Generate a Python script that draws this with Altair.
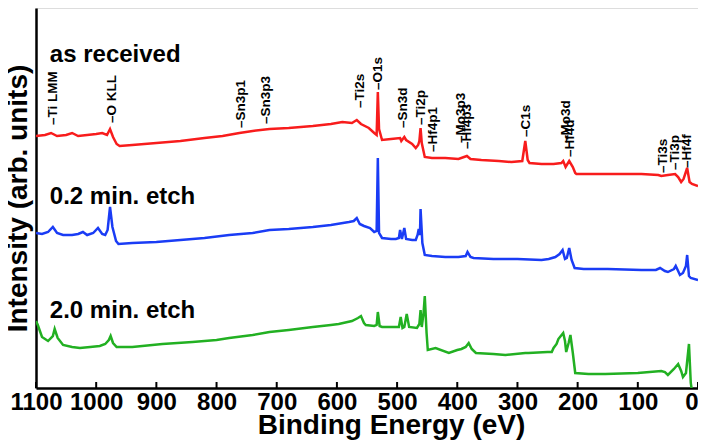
import altair as alt
import pandas as pd

# ---- data (binding energy in eV, intensity in arb. units) ----
red_be = [1100, 1085, 1075, 1065, 1050, 1040, 1030, 1015, 1000, 990, 982, 977, 972, 966, 961, 940, 900, 860,
          820, 790, 762, 740, 712, 680, 640, 610, 591, 575, 567, 560, 547, 538, 534, 532, 530, 525, 510, 495,
          493, 488, 485, 475, 469, 465, 463, 461, 459, 454, 442, 420, 398, 384, 378, 360, 331, 310, 292, 287,
          283, 280, 260, 240, 227, 224, 220, 214, 208, 204, 202, 150, 94, 66, 61, 50, 38, 33, 28, 24, 18, 14, 10, 0]
red_int = [257, 258, 260, 257, 258, 260, 257, 258, 259, 260, 258, 264, 256, 249, 247, 248, 250, 252,
           255, 257, 260, 262, 264, 265, 267, 269, 271, 270, 273, 269, 265, 260, 258, 301, 264, 253, 254, 255,
           252, 256, 253, 249, 245, 248, 252, 265, 250, 236, 235, 235, 234, 237, 234, 233, 232, 231, 232, 252,
           233, 230, 229, 229, 230, 232, 226, 232, 226, 220, 219, 219, 219, 218, 217, 218, 219, 216, 211, 214,
           225, 211, 209, 207]

blue_be = [1100, 1090, 1080, 1072, 1065, 1055, 1040, 1030, 1022, 1015, 1005, 997, 990, 985, 981, 977, 973, 967,
           963, 940, 900, 860, 820, 779, 740, 712, 680, 640, 610, 580, 572, 567, 562, 555, 545, 538, 534, 532,
           530, 525, 510, 502, 497, 495, 492, 488, 485, 475, 469, 466, 464, 462, 461, 458, 454, 442, 420, 398,
           386, 383, 378, 373, 340, 300, 260, 248, 237, 230, 225, 221, 218, 214, 210, 205, 190, 150, 94, 70,
           63, 55, 50, 40, 37, 33, 30, 25, 20, 18, 15, 12, 0]
blue_int = [160, 159, 161, 166, 160, 158, 158, 159, 161, 158, 160, 165, 159, 158, 163, 186, 166, 152,
            149, 150, 151, 153, 155, 158, 160, 163, 164, 166, 168, 171, 172, 175, 169, 167, 165, 161, 162, 235,
            160, 155, 154, 154, 155, 163, 154, 165, 154, 153, 153, 158, 164, 158, 184, 150, 138, 137, 136, 136,
            137, 141, 136, 135, 134, 134, 133, 134, 136, 139, 143, 134, 135, 145, 133, 125, 124, 124, 123, 123,
            125, 122, 121, 124, 127, 122, 118, 120, 127, 138, 117, 115, 113]

green_be = [1100, 1097, 1090, 1080, 1072, 1069, 1064, 1055, 1040, 1027, 1010, 994, 985, 979, 976, 972, 966,
            940, 890, 840, 800, 779, 740, 712, 680, 640, 610, 597, 575, 565, 560, 555, 552, 538, 534, 532, 529,
            525, 500, 497, 494, 491, 488, 484, 480, 467, 463, 461, 459, 456, 454, 451, 449, 436, 414, 400, 393,
            386, 381, 376, 369, 340, 320, 287, 282, 250, 243, 240, 235, 232, 228, 224, 221, 219, 215, 212, 208,
            204, 182, 154, 100, 61, 55, 50, 40, 33, 28, 25, 20, 15, 12, 10, 0]
green_int = [72, 68, 56, 52, 57, 64, 55, 48, 46, 45, 46, 47, 49, 53, 57, 50, 46,
             46, 49, 51, 53, 55, 58, 61, 63, 66, 68, 69, 72, 75, 77, 70, 68, 67, 68, 81, 67,
             66, 66, 66, 76, 65, 66, 79, 66, 65, 69, 83, 66, 80, 97, 60, 43, 45, 40, 43, 44,
             46, 50, 44, 40, 39, 38, 40, 40, 41, 41, 45, 49, 54, 57, 60, 52, 41, 50, 58, 40,
             20, 19, 19, 20, 22, 21, 18, 24, 29, 22, 16, 20, 49, 10, 2, 2]

series_names = ["as received", "0.2 min. etch", "2.0 min. etch"]
series_colors = ["#f81c1c", "#1a3cf5", "#22b022"]

label_be = [1077, 1077, 1077]
label_int = [331, 189, 75]

peak_names = ["–Ti LMM", "–O KLL", "–Sn3p1", "–Sn3p3", "–Ti2s", "–O1s", "–Sn3d", "–Ti2p", "–Hf4p1",
              "–Mo3p3", "–Hf4p3", "–C1s", "–Mo3d", "–Hf4d", "–Ti3s", "–Ti3p", "–Hf4f"]
peak_be = [1072, 974, 759, 717, 562, 532, 490, 461, 441, 394, 384, 285, 220, 212, 58, 38, 18]
peak_int = [268, 270, 265, 269, 285, 303, 265, 268, 241, 250, 244, 256, 250, 236, 220, 223, 225]

tick_values = [0, 100, 200, 300, 400, 500, 600, 700, 800, 900, 1000, 1100]

FONT = "Liberation Sans"
W, H = 662, 380

rows = []
for name, bes, ints in zip(series_names, [red_be, blue_be, green_be], [red_int, blue_int, green_int]):
    for b, v in zip(bes, ints):
        rows.append({"series": name, "be": b, "intensity": v})
df = pd.DataFrame(rows)

labels_df = pd.DataFrame({"series": series_names, "be": label_be, "intensity": label_int})
peaks_df = pd.DataFrame({"name": peak_names, "be": peak_be, "intensity": peak_int})
ticks_df = pd.DataFrame({"be": tick_values})

xscale = alt.Scale(domain=[0, 1100], reverse=True, nice=False, zero=False)
yscale = alt.Scale(domain=[5, 385], nice=False, zero=False)
color = alt.Color("series:N", scale=alt.Scale(domain=series_names, range=series_colors), legend=None)

xaxis = alt.Axis(values=tick_values, format="d", ticks=False, grid=False, labelFont=FONT, labelFontSize=24,
                 labelFontWeight="bold", labelColor="black", labelPadding=2,
                 labelAlign={"condition": {"test": "datum.value === 0", "value": "right"}, "value": "center"},
                 title="Binding Energy (eV)",
                 titleFont=FONT, titleFontSize=28, titleFontWeight="bold", titleColor="black",
                 titleX=355, titleY=45, titleBaseline="alphabetic",
                 domainColor="black", domainWidth=2.5, labelFlush=False)
yaxis = alt.Axis(labels=False, ticks=False, grid=False, title="Intensity (arb. units)", titleFont=FONT,
                 titleFontSize=28, titleFontWeight="bold", titleColor="black", titlePadding=4,
                 domainColor="black", domainWidth=2.5)

lines = alt.Chart(df).mark_line(strokeWidth=2.5, clip=True).encode(
    x=alt.X("be:Q", scale=xscale, axis=xaxis),
    y=alt.Y("intensity:Q", scale=yscale, axis=yaxis),
    color=color,
    detail="series:N",
    order=alt.Order("be:Q", sort="descending"),
)

ticks = alt.Chart(ticks_df).mark_rule(color="black", strokeWidth=2).encode(
    x=alt.X("be:Q", scale=xscale),
    y=alt.value(H - 6),
    y2=alt.value(H),
)

peak_text = alt.Chart(peaks_df).mark_text(angle=270, align="left", baseline="middle", font=FONT,
                                          fontSize=13.5, fontWeight="bold", color="black").encode(
    x=alt.X("be:Q", scale=xscale),
    y=alt.Y("intensity:Q", scale=yscale),
    text="name:N",
)

series_text = alt.Chart(labels_df).mark_text(align="left", baseline="alphabetic", font=FONT,
                                             fontSize=24, fontWeight="bold", color="black").encode(
    x=alt.X("be:Q", scale=xscale),
    y=alt.Y("intensity:Q", scale=yscale),
    text="series:N",
)

chart = alt.layer(lines, ticks, peak_text, series_text).properties(
    width=W, height=H,
    autosize=alt.AutoSizeParams(type="none"),
    padding={"left": 28, "top": 0, "right": 0, "bottom": 52},
).configure_view(stroke="black", strokeWidth=2.5).configure(font=FONT)

chart.save("out.html", embed_options={"renderer": "svg", "actions": False})
